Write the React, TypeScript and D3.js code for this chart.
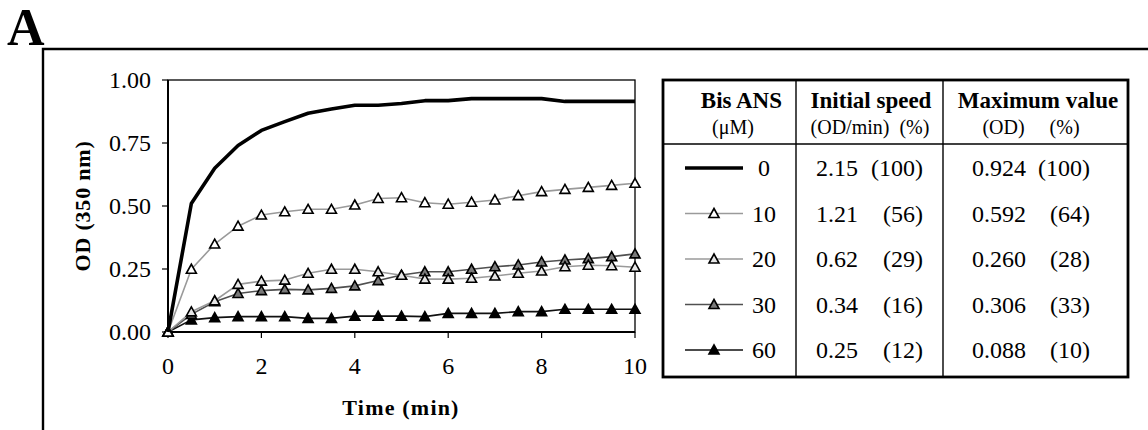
import React from "react";
import * as d3 from "d3";

const times = [0, 0.5, 1, 1.5, 2, 2.5, 3, 3.5, 4, 4.5, 5, 5.5, 6, 6.5, 7, 7.5, 8, 8.5, 9, 9.5, 10];
const od0 = [0, 0.51, 0.65, 0.74, 0.8, 0.835, 0.868, 0.885, 0.9, 0.9, 0.907, 0.918, 0.918, 0.926, 0.926, 0.926, 0.926, 0.915, 0.915, 0.915, 0.915];
const od10 = [0, 0.249, 0.349, 0.42, 0.464, 0.477, 0.487, 0.487, 0.504, 0.53, 0.533, 0.513, 0.507, 0.515, 0.524, 0.541, 0.557, 0.566, 0.574, 0.582, 0.59];
const od20 = [0, 0.08, 0.124, 0.189, 0.202, 0.206, 0.233, 0.249, 0.249, 0.239, 0.225, 0.21, 0.21, 0.213, 0.222, 0.233, 0.242, 0.259, 0.265, 0.263, 0.257];
const od30 = [0, 0.07, 0.12, 0.153, 0.164, 0.169, 0.167, 0.173, 0.183, 0.204, 0.226, 0.239, 0.239, 0.249, 0.259, 0.266, 0.278, 0.286, 0.291, 0.299, 0.31];
const od60 = [0, 0.048, 0.057, 0.061, 0.061, 0.061, 0.054, 0.054, 0.063, 0.063, 0.063, 0.061, 0.074, 0.074, 0.074, 0.081, 0.081, 0.09, 0.09, 0.09, 0.09];

const concentrations = ["0", "10", "20", "30", "60"];
const initSpeed = ["2.15", "1.21", "0.62", "0.34", "0.25"];
const initPct = ["(100)", "(56)", "(29)", "(16)", "(12)"];
const maxValue = ["0.924", "0.592", "0.260", "0.306", "0.088"];
const maxPct = ["(100)", "(64)", "(28)", "(33)", "(10)"];

const xTicks = [0, 2, 4, 6, 8, 10];
const yTicks = [0, 0.25, 0.5, 0.75, 1.0];

const FONT = "'Liberation Serif', 'Times New Roman', serif";

type Style = { line: string; width: number; marker: string | null };
const styles: Style[] = [
  { line: "#000", width: 3.6, marker: null },
  { line: "#9a9a9a", width: 1.6, marker: "#fff" },
  { line: "#9a9a9a", width: 1.6, marker: "#e6e6e6" },
  { line: "#505050", width: 1.6, marker: "#7a7a7a" },
  { line: "#111", width: 1.6, marker: "#000" },
];
const seriesData = [od0, od10, od20, od30, od60];

function Tri({ x, y, fill }: { x: number; y: number; fill: string }) {
  const s = 5;
  const p = `M${x},${y - s}L${x + s},${y + s * 0.8}L${x - s},${y + s * 0.8}Z`;
  return <path d={p} fill={fill} stroke="#000" strokeWidth={1.6} strokeLinejoin="miter" />;
}

export default function App() {
  const x = d3.scaleLinear().domain([0, 10]).range([168, 635]);
  const y = d3.scaleLinear().domain([0, 1]).range([332, 80]);
  const line = d3
    .line<number>()
    .x((_, i) => x(times[i]))
    .y((d) => y(d));

  const rowY = d3.scalePoint<string>().domain(concentrations).range([168, 350]);

  const tL = 663, tR = 1128, tT = 80, tB = 377;

  return (
    <svg
      width={1148}
      height={430}
      style={{ position: "absolute", left: 0, top: 0, background: "#fff" }}
      fontFamily={FONT}
    >
      <rect x={0} y={0} width={1148} height={430} fill="#fff" />
      <text x={7} y={45} fontSize={52} fontWeight="bold">A</text>
      {/* outer frame */}
      <path d="M43,440V49H1160" fill="none" stroke="#000" strokeWidth={2.4} />

      {/* plot frame */}
      <rect x={x(0)} y={y(1)} width={x(10) - x(0)} height={y(0) - y(1)} fill="none" stroke="#000" strokeWidth={1.3} />
      <line x1={x(0)} x2={x(0)} y1={y(1)} y2={y(0)} stroke="#000" strokeWidth={2} />
      <line x1={x(0)} x2={x(10)} y1={y(0)} y2={y(0)} stroke="#000" strokeWidth={2} />

      {yTicks.map((t) => (
        <g key={"y" + t}>
          <line x1={x(0) - 6} x2={x(0)} y1={y(t)} y2={y(t)} stroke="#000" strokeWidth={1.2} />
          <text x={x(0) - 17} y={y(t)} dy="0.35em" textAnchor="end" fontSize={24}>
            {d3.format(".2f")(t)}
          </text>
        </g>
      ))}
      {xTicks.map((t) => (
        <g key={"x" + t}>
          <line x1={x(t)} x2={x(t)} y1={y(0)} y2={y(0) + 6} stroke="#000" strokeWidth={1.2} />
          <text x={x(t)} y={y(0) + 42} textAnchor="middle" fontSize={24}>
            {t}
          </text>
        </g>
      ))}
      <text x={401} y={415} textAnchor="middle" fontSize={22} fontWeight="bold" letterSpacing={1.2}>Time (min)</text>
      <text transform="translate(90,206) rotate(-90)" textAnchor="middle" fontSize={22} fontWeight="bold" letterSpacing={0.8}>OD (350 nm)</text>

      {/* series, draw from back: 60,30,20,10,0 */}
      {[4, 3, 2, 1, 0].map((k) => (
        <g key={"s" + k}>
          <path d={line(seriesData[k]) || ""} fill="none" stroke={styles[k].line} strokeWidth={styles[k].width} strokeLinejoin="round" />
          {styles[k].marker &&
            seriesData[k].map((v, i) => <Tri key={i} x={x(times[i])} y={y(v)} fill={styles[k].marker as string} />)}
        </g>
      ))}

      {/* table */}
      <rect x={tL} y={tT} width={tR - tL} height={tB - tT} fill="none" stroke="#000" strokeWidth={2.8} />
      <line x1={796} x2={796} y1={tT} y2={tB} stroke="#000" strokeWidth={1.4} />
      <line x1={943} x2={943} y1={tT} y2={tB} stroke="#000" strokeWidth={1.4} />
      <line x1={tL} x2={tR} y1={144} y2={144} stroke="#000" strokeWidth={1.4} />

      <text x={782} y={108} textAnchor="end" fontSize={23} fontWeight="bold">Bis ANS</text>
      <text x={733} y={134} textAnchor="middle" fontSize={20}>(μM)</text>
      <text x={871} y={108} textAnchor="middle" fontSize={23} fontWeight="bold">Initial speed</text>
      <text x={870} y={134} textAnchor="middle" fontSize={20} style={{ whiteSpace: "pre" }}>(OD/min)  (%)</text>
      <text x={1038} y={108} textAnchor="middle" fontSize={23} fontWeight="bold">Maximum value</text>
      <text x={1031} y={134} textAnchor="middle" fontSize={20} style={{ whiteSpace: "pre" }}>(OD)     (%)</text>

      {concentrations.map((c, i) => {
        const cy = rowY(c) as number;
        const st = styles[i];
        return (
          <g key={"r" + c}>
            <line x1={685} x2={743} y1={cy} y2={cy} stroke={st.line} strokeWidth={st.width} />
            {st.marker && <Tri x={714} y={cy} fill={st.marker} />}
            <text x={764} y={cy} dy="0.35em" textAnchor="middle" fontSize={24}>{c}</text>
            <text x={816} y={cy} dy="0.35em" fontSize={24}>{initSpeed[i]}</text>
            <text x={923} y={cy} dy="0.35em" textAnchor="end" fontSize={24}>{initPct[i]}</text>
            <text x={972} y={cy} dy="0.35em" fontSize={24}>{maxValue[i]}</text>
            <text x={1090} y={cy} dy="0.35em" textAnchor="end" fontSize={24}>{maxPct[i]}</text>
          </g>
        );
      })}
    </svg>
  );
}
